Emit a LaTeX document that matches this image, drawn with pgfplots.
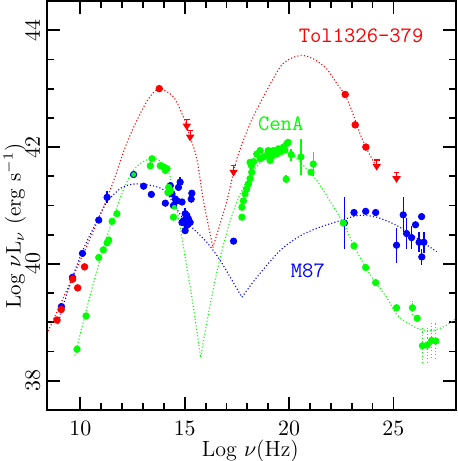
\documentclass[border=0pt]{standalone}
\usepackage{fontspec}
\usepackage{pgfplots}
\pgfplotsset{compat=1.18}

% upper limit: bar on top, arrow pointing down
\pgfdeclareplotmark{ulim}{%
  \pgfpathmoveto{\pgfqpoint{-1.4pt}{0pt}}%
  \pgfpathlineto{\pgfqpoint{1.4pt}{0pt}}%
  \pgfpathmoveto{\pgfqpoint{0pt}{0pt}}%
  \pgfpathlineto{\pgfqpoint{0pt}{-3pt}}%
  \pgfusepathqstroke
  \pgfpathmoveto{\pgfqpoint{-1.6pt}{-2.3pt}}%
  \pgfpathlineto{\pgfqpoint{0pt}{-4.8pt}}%
  \pgfpathlineto{\pgfqpoint{1.6pt}{-2.3pt}}%
  \pgfpathclose
  \pgfusepathqfillstroke}

\pgfplotsset{
  model/.style={line width=0.55pt, dash pattern=on 0.55pt off 1.1pt, smooth, tension=0.45, no marks},
  pts/.style={only marks, mark=*, mark size=1.6pt, mark options={solid}},
}

\begin{document}
\begin{tikzpicture}
\begin{axis}[
    name=ax,
    scale only axis,
    width=204.5pt,
    height=204.5pt,
    xmin=8.4, xmax=28,
    ymin=37.5, ymax=44.5,
    xtick={10,15,20,25},
    ytick={38,40,42,44},
    minor x tick num=4,
    minor y tick num=3,
    tick align=inside,
    major tick length=6.3pt,
    minor tick length=3.3pt,
    axis line style={line width=1pt},
    tick style={line width=0.9pt, black},
    xticklabel style={font=\fontsize{10.5}{12}\selectfont, yshift=-2pt},
    yticklabel style={font=\fontsize{10.5}{12}\selectfont, rotate=90, anchor=south},
    xlabel={Log $\nu$(Hz)},
    ylabel={Log $\nu$L$_\nu$ (erg s$^{-1}$)},
    xlabel style={font=\fontsize{11}{13}\selectfont, at={(axis description cs:0.497,-0.1)}, anchor=center},
    ylabel style={font=\fontsize{10.5}{12.5}\selectfont, at={(axis description cs:-0.079,0.45)}, anchor=center},
]

% ---- M87 (blue)
\addplot[blue, model] coordinates {
  (8.92,38.97) (9.28,39.40) (9.70,39.85) (10.10,40.22) (10.48,40.51) (11.04,40.91)
  (11.35,41.10) (12.00,41.31) (12.63,41.37) (13.43,41.34) (14.07,41.24) (14.94,40.76)
  (15.42,40.60) (16.06,40.37) (16.70,40.06) (17.74,39.43)
};
\addplot[blue, model] coordinates {
  (17.74,39.43) (18.45,39.77) (19.57,40.23) (20.53,40.48) (21.48,40.63) (22.44,40.74)
  (23.32,40.83) (24.20,40.80) (25.15,40.66) (25.95,40.48) (27.07,40.21)
};
\addplot[blue, pts, error bars/.cd, y dir=both, y explicit, error mark=none,
         error bar style={line width=0.7pt, solid}] coordinates {
  (9.09,39.27) +- (0,0) (9.62,39.77) +- (0,0) (10.10,40.18) +- (0,0)
  (10.88,40.75) +- (0,0) (11.28,41.14) +- (0,0.1) (12.55,41.53) +- (0,0)
  (13.03,41.33) +- (0,0) (13.40,41.19) +- (0,0) (14.07,41.04) +- (0,0.06)
  (14.31,41.34) +- (0,0) (14.39,41.20) +- (0,0) (14.46,41.00) +- (0,0)
  (14.55,41.11) +- (0,0) (14.63,41.08) +- (0,0) (14.70,41.31) +- (0,0)
  (14.78,41.40) +- (0,0.08) (14.87,41.06) +- (0,0) (14.87,40.71) +- (0,0)
  (15.34,41.21) +- (0,0.06) (15.31,41.11) +- (0,0.06) (15.02,40.86) +- (0,0.1)
  (14.94,40.74) +- (0,0) (15.18,40.77) +- (0,0) (15.10,40.66) +- (0,0)
  (15.02,40.57) +- (0,0) (15.10,40.83) +- (0,0) (15.26,40.71) +- (0,0)
  (17.34,40.39) +- (0,0)
  (22.65,40.70) +- (0,0.44) (23.11,40.88) +- (0,0) (23.67,40.90) +- (0,0)
  (24.15,40.88) +- (0,0) (25.15,40.32) +- (0,0.3) (25.47,40.84) +- (0,0.3)
  (25.63,40.52) +- (0,0.26) (25.87,40.45) +- (0,0.2) (26.06,40.67) +- (0,0)
  (26.35,40.81) +- (0,0) (26.23,40.37) +- (0,0.17) (26.46,40.37) +- (0,0.18)
  (26.36,40.12) +- (0,0.13)
};

% ---- Cen A (green)
\addplot[green, model] coordinates {
  (9.73,38.43) (10.40,39.37) (11.11,40.28) (11.75,40.97) (12.20,41.38) (12.63,41.64)
  (13.11,41.77) (13.59,41.80) (13.99,41.71) (14.31,41.48) (14.78,40.63) (15.10,39.94)
  (15.42,39.25) (15.76,38.40)
};
\addplot[green, model] coordinates {
  (15.76,38.40) (16.22,39.31) (16.70,40.11) (17.18,40.74) (17.66,41.20) (18.20,41.55)
  (18.80,41.80) (19.40,41.95) (19.80,41.98) (20.13,41.88) (20.60,41.72) (21.33,41.43)
  (21.64,41.26) (22.60,40.70) (23.11,40.31) (23.67,39.94) (24.15,39.68) (24.67,39.43)
  (25.15,39.14) (25.63,39.00) (26.27,38.88) (26.90,38.86) (27.55,38.95) (28.00,39.07)
};
\addplot[green, pts] coordinates {
  (9.84,38.54) (10.27,39.11) (10.88,40.11) (11.10,40.24) (11.28,40.36) (11.36,40.41)
  (11.52,40.73) (11.75,40.86)
  (13.35,41.68) (13.43,41.80) (13.83,41.68) (13.99,41.66) (14.07,41.60) (14.15,41.63)
  (14.23,41.31) (14.31,41.25) (14.20,41.22) (14.46,40.80)
  (17.74,40.80) (17.74,40.97) (17.81,41.08) (17.89,41.20) (17.97,41.28) (18.05,41.37)
  (18.13,41.46) (18.21,41.57) (18.13,41.74) (18.20,41.68) (18.30,41.75) (18.45,41.88)
  (18.61,41.94) (18.61,41.80) (18.77,41.83) (18.93,41.86) (19.09,41.77) (19.00,41.94)
  (19.25,41.94) (19.20,41.85) (19.49,41.97) (19.40,41.88) (19.60,41.92) (19.73,42.00)
  (19.89,42.06) (19.95,42.08) (19.80,41.95) (21.05,41.57)
  (22.60,40.70) (23.11,40.31) (23.67,39.94) (24.15,39.68) (25.15,39.25) (26.14,39.07)
};
\addplot[green, pts, mark size=1pt] coordinates {(12.55,41.53) (14.50,40.97)};
\addplot[green, pts, error bars/.cd, y dir=both, y explicit, error mark=none,
         error bar style={line width=0.7pt, solid}] coordinates {
  (19.86,41.45) +- (0,0.07) (20.10,41.87) +- (0,0.1) (20.57,41.83) +- (0,0.3)
  (21.16,41.71) +- (0,0.2)
};
\addplot[green, pts, error bars/.cd, y dir=both, y explicit, error mark=none,
         error bar style={line width=0.6pt, dash pattern=on 0.55pt off 1.1pt}] coordinates {
  (25.91,39.25) +- (0,0.12) (26.39,38.60) +- (0,0.33) (26.62,38.61) +- (0,0.32)
  (26.83,38.69) +- (0,0.32) (27.03,38.68) +- (0,0.32)
};

% ---- Tol1326-379 (red)
\addplot[red, model] coordinates {
  (8.45,38.85) (8.65,39.00) (9.50,39.67) (10.30,40.30) (11.10,40.97) (11.60,41.43)
  (12.15,42.00) (12.71,42.46) (13.27,42.83) (13.78,43.00) (14.46,42.86) (14.94,42.51)
  (15.26,42.17) (15.58,41.80) (15.90,41.08) (16.35,40.28)
};
\addplot[red, model] coordinates {
  (16.35,40.28) (17.02,41.08) (17.50,41.80) (18.13,42.40) (18.77,42.86) (19.57,43.37)
  (20.05,43.51) (20.60,43.57) (21.16,43.51) (21.80,43.34) (22.28,43.09) (22.68,42.89)
  (23.00,42.63) (23.40,42.23) (23.72,41.97) (24.11,41.71)
};
\addplot[red, pts, mark size=1.65pt] coordinates {
  (8.88,39.04) (9.08,39.22) (9.63,39.74) (9.87,39.59) (10.20,39.95)
  (13.78,43.00) (22.69,42.90) (23.17,42.38) (23.68,42.00)
};
\addplot[red, only marks, mark=ulim, mark options={line width=0.6pt}] coordinates {
  (15.10,42.47) (15.26,42.28) (17.34,41.68) (24.20,41.78) (25.15,41.57)
};

\node[red, font=\fontsize{11}{13}\selectfont\ttfamily] at (axis cs:23.45,43.91) {Tol1326-379};
\node[green, font=\fontsize{11}{13}\selectfont\ttfamily] at (axis cs:19.6,42.4) {CenA};
\node[blue, font=\fontsize{11}{13}\selectfont\ttfamily] at (axis cs:20.9,39.89) {M87};
\end{axis}
\pgfresetboundingbox
\path[use as bounding box] ([xshift=-23.5pt,yshift=-25.5pt]ax.south west)
  rectangle ([xshift=0.5pt,yshift=0.5pt]ax.north east);
\end{tikzpicture}
\end{document}
